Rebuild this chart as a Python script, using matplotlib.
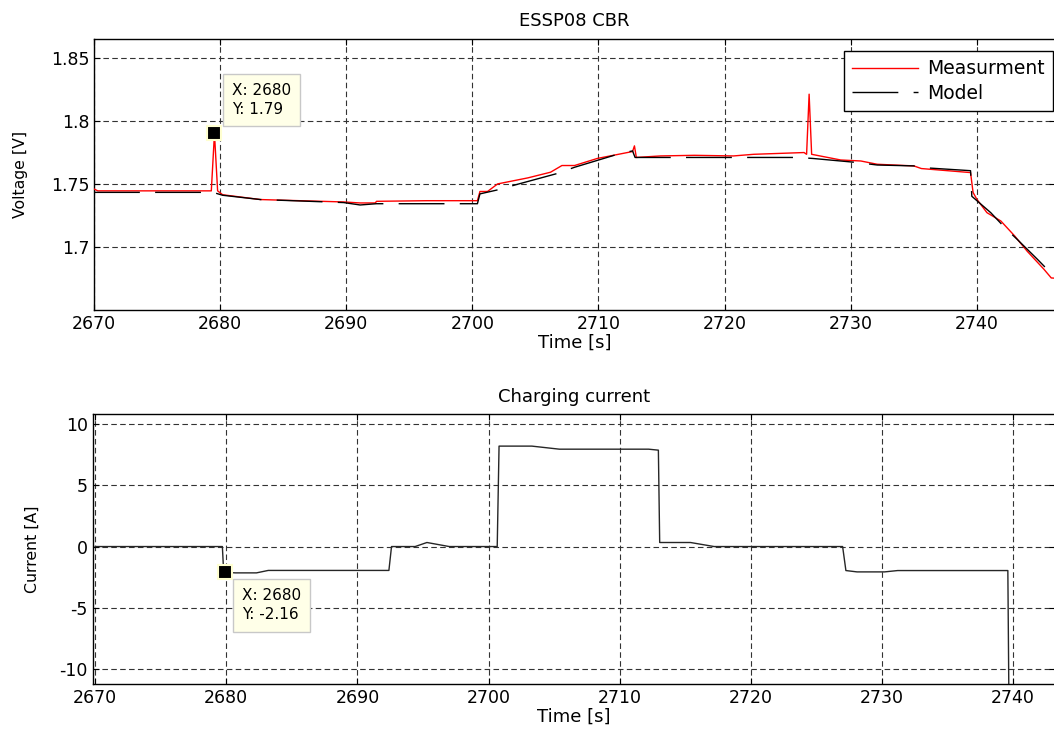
import numpy as np
import matplotlib
matplotlib.use('Agg')
import matplotlib.pyplot as plt

plt.rcParams['font.family'] = ['DejaVu Sans']
plt.rcParams['axes.unicode_minus'] = False

# measured voltage (red)
t_meas = [2670, 2670.3, 2679.3, 2679.55, 2679.8, 2680.2, 2683.2, 2686.3, 2689.8, 2691.1, 2692.3, 2692.4,
          2696.4, 2700.4, 2700.6, 2701.2, 2702.0, 2704.4, 2706.2, 2707.1, 2708.1, 2709.9, 2712.7,
          2712.85, 2713.0, 2714.9, 2717.6, 2720.7, 2722.3, 2726.3, 2726.5, 2726.7, 2726.9, 2729.2,
          2730.8, 2732.1, 2735.0, 2735.6, 2739.5, 2739.7, 2740.0, 2740.8, 2741.9, 2743.0, 2744.0,
          2745.3, 2745.9, 2746.5]
v_meas = [1.746, 1.7445, 1.7445, 1.790, 1.7445, 1.7414, 1.7376, 1.7367, 1.7357, 1.7349, 1.7349, 1.7362,
          1.7367, 1.7367, 1.744, 1.744, 1.750, 1.7548, 1.7593, 1.7646, 1.7646, 1.7702, 1.7757,
          1.7802, 1.771, 1.7722, 1.7727, 1.7722, 1.7735, 1.7749, 1.7735, 1.8212, 1.7735, 1.769,
          1.7682, 1.7656, 1.7643, 1.7622, 1.759, 1.7432, 1.7378, 1.7272, 1.7206, 1.7087, 1.6965,
          1.6825, 1.6754, 1.675]

# model voltage (black dashed)
t_model = [2670, 2679.4, 2679.7, 2680.2, 2683.2, 2686.3, 2689.8, 2691.1, 2692.4, 2700.4, 2700.6,
           2702.1, 2703.5, 2706.7, 2708.1, 2711.7, 2712.7, 2712.9, 2716.0, 2725.8, 2727.0, 2730.5,
           2732.1, 2735.0, 2735.6, 2739.5, 2739.6, 2741.1, 2742.3, 2743.2, 2744.8, 2745.7, 2746.5]
v_model = [1.7433, 1.7433, 1.7425, 1.741, 1.7376, 1.7365, 1.7352, 1.7333, 1.7343, 1.7343, 1.7421,
           1.7455, 1.7495, 1.7582, 1.7632, 1.7741, 1.7762, 1.771, 1.771, 1.771, 1.7702, 1.767,
           1.765, 1.7643, 1.763, 1.7605, 1.7402, 1.7272, 1.7145, 1.706, 1.6902, 1.681, 1.676]

# charging current
t_cur = [2670, 2679.7, 2679.8, 2680.7, 2682.3, 2683.2, 2692.4, 2692.6, 2694.4, 2695.3, 2697.0,
         2700.66, 2700.8, 2703.3, 2705.4, 2712.2, 2712.95, 2713.05, 2715.4, 2717.2, 2727.0, 2727.25,
         2728.1, 2730.2, 2731.2, 2739.6, 2739.7]
i_cur = [0, 0, -2.1, -2.15, -2.15, -1.95, -1.95, 0, 0, 0.33, 0,
         0, 8.2, 8.2, 7.95, 7.95, 7.87, 0.33, 0.33, 0, 0, -1.96,
         -2.07, -2.07, -1.96, -1.96, -15]

fig = plt.figure(figsize=(10.54, 7.34), dpi=100)
ax1 = fig.add_axes([0.0892, 0.5777, 0.9118, 0.3692])
ax2 = fig.add_axes([0.0878, 0.0685, 0.9132, 0.3671])

grid_kw = dict(color='0.2', linestyle=(0, (5, 3)), linewidth=0.8)
for ax in (ax1, ax2):
    ax.grid(True, **grid_kw)
    ax.tick_params(direction='in', top=True, right=True, labelsize=12.5, length=4)
    for s in ax.spines.values():
        s.set_linewidth(1.0)

# top panel
ax1.plot(t_meas, v_meas, color='red', lw=1.0, label='Measurment', zorder=3)
ax1.plot(t_model, v_model, color='black', lw=1.0, dashes=(33, 11), label='Model', zorder=3)
ax1.set_xlim(2670, 2746.2)
ax1.set_ylim(1.65, 1.865)
ax1.set_xticks(np.arange(2670, 2741, 10))
ax1.set_yticks([1.7, 1.75, 1.8, 1.85])
ax1.set_yticklabels(['1.7', '1.75', '1.8', '1.85'])
ax1.set_title('ESSP08 CBR', fontsize=13, pad=9)
ax1.set_xlabel('Time [s]', fontsize=13, labelpad=1)
ax1.set_ylabel('Voltage [V]', fontsize=11.3, labelpad=16)
leg = ax1.legend(loc='upper right', bbox_to_anchor=(0.998, 0.957), fontsize=13.5,
                 fancybox=False, edgecolor='black', framealpha=1, handlelength=3.5,
                 handletextpad=0.5, borderpad=0.45, labelspacing=0.3, borderaxespad=0)
leg.get_frame().set_linewidth(1.0)

ax1.plot([2679.55], [1.7905], marker='s', ms=10, color='black', mec='#FFFFD0', mew=1.5, zorder=5)
ax1.text(2680.93, 1.8164, 'X: 2680\nY: 1.79', fontsize=11, va='center', ha='left',
         linespacing=1.35, zorder=6,
         bbox=dict(boxstyle='square,pad=0.6', fc='#FFFFE8', ec='#C8C8C8', lw=1))

# bottom panel
ax2.plot(t_cur, i_cur, color='0.15', lw=1.0)
ax2.set_xlim(2669.8, 2743.2)
ax2.set_ylim(-11.2, 10.8)
ax2.set_xticks(np.arange(2670, 2741, 10))
ax2.set_yticks([-10, -5, 0, 5, 10])
ax2.set_title('Charging current', fontsize=13, pad=9)
ax2.set_xlabel('Time [s]', fontsize=13, labelpad=1)
ax2.set_ylabel('Current [A]', fontsize=11.3, labelpad=14)

ax2.plot([2679.9], [-2.07], marker='s', ms=10, color='black', mec='#FFFFD0', mew=1.5, zorder=5)
ax2.text(2681.18, -4.8, 'X: 2680\nY: -2.16', fontsize=11, va='center', ha='left',
         linespacing=1.35, zorder=6,
         bbox=dict(boxstyle='square,pad=0.6', fc='#FFFFE8', ec='#C8C8C8', lw=1))

fig.savefig('out.png', dpi=100)
